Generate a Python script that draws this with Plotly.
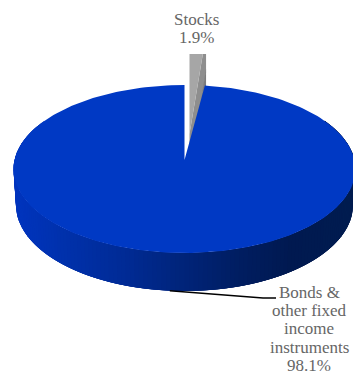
import numpy as np
import plotly.graph_objects as go

# Portfolio breakdown
categories = ["Stocks", "Bonds &<br>other fixed<br>income<br>instruments"]
shares = [1.9, 98.1]

WIDTH, HEIGHT = 353, 375
BLUE = "#0039c4"
GRAY_TOP = "#a6a6a6"
GRAY_CUT = "#8e8e8e"
GRAY_CUT_DARK = "#7c7c7c"
LABEL = "#666666"
LABEL_FONT = "Liberation Serif"
LABEL_SIZE = 17
LINE_STEP = 18.4

# Projected disc: top rim, bottom rim and the off-centre pie apex
CX, TOP_CY, TOP_A, TOP_B = 184.5, 169, 171, 84
BOT_CY, BOT_A, BOT_B = 205, 168.5, 86
APEX_Y = 160
CLIP_TOP = 54

# Pulled-out slice
PULL_X, PULL_Y, PULL_A, PULL_B, DEPTH = 189.5, 134, 139, 100, 38

# Side wall shading, left to right
WALL_X = [14, 60, 120, 180, 240, 290, 353]
WALL_R = [0, 0, 0, 0, 0, 0, 0]
WALL_G = [52, 49, 43, 36, 29, 25, 28]
WALL_B = [190, 172, 150, 122, 96, 80, 80]

stock_angle = 2 * np.pi * shares[0] / sum(shares)


def top_rim(theta):
    return CX + TOP_A * np.sin(theta), TOP_CY - TOP_B * np.cos(theta)


def bottom_rim(theta):
    return CX + BOT_A * np.sin(theta), BOT_CY - BOT_B * np.cos(theta)


def polygon(x, y, color, ax="x2", ay="y2", edge=0):
    return go.Scatter(
        x=list(x), y=list(y), xaxis=ax, yaxis=ay, mode="lines", fill="toself",
        fillcolor=color, line=dict(color=color, width=edge),
        hoverinfo="skip", showlegend=False,
    )


fig = go.Figure()

# Pulled-out slice: cut face first, then its top surface. It lives on the
# first subplot, whose plot area trims it at the top.
outer_x = PULL_X + PULL_A * np.sin(stock_angle)
outer_y = PULL_Y - PULL_B * np.cos(stock_angle)
fig.add_trace(polygon(
    [PULL_X, outer_x, outer_x, PULL_X],
    [PULL_Y, outer_y, outer_y + DEPTH, PULL_Y + DEPTH],
    GRAY_CUT, "x", "y",
))
fig.add_trace(polygon(
    [PULL_X + 6, outer_x, outer_x, PULL_X + 6],
    [PULL_Y, outer_y + DEPTH * 0.9, outer_y + DEPTH * 2, PULL_Y + DEPTH],
    GRAY_CUT_DARK, "x", "y",
))
fig.add_trace(polygon(
    [PULL_X, PULL_X, outer_x],
    [PULL_Y, PULL_Y - PULL_B, outer_y],
    GRAY_TOP, "x", "y",
))

# Main slice side wall: shaded strips painted left to right, each one
# overlapping the next so no gaps show between them
edges = np.radians(np.linspace(305, 55, 161))
strip_span = 4
for i in range(len(edges) - 1):
    span = np.linspace(edges[i], edges[min(i + strip_span, len(edges) - 1)], strip_span + 1)
    tx, ty = top_rim(span)
    bx, by = bottom_rim(span)
    mid = top_rim(edges[i])[0]
    g = np.interp(mid, WALL_X, WALL_G)
    b = np.interp(mid, WALL_X, WALL_B)
    r = np.interp(mid, WALL_X, WALL_R)
    fig.add_trace(polygon(
        np.concatenate([tx, bx[::-1]]), np.concatenate([ty, by[::-1]]),
        f"rgb({r:.0f},{g:.0f},{b:.0f})",
    ))

# Main slice top surface
arc = np.linspace(stock_angle, 2 * np.pi, 241)
arc_x, arc_y = top_rim(arc)
fig.add_trace(polygon(
    np.concatenate([[CX], arc_x]), np.concatenate([[APEX_Y], arc_y]), BLUE,
))

# Leader from the bottom rim to the label
lead_x, lead_y = bottom_rim(np.radians(185))
fig.add_trace(go.Scatter(
    x=[lead_x, 263, 276], y=[lead_y, 298, 298], xaxis="x2", yaxis="y2",
    mode="lines", line=dict(color="black", width=1.5),
    hoverinfo="skip", showlegend=False,
))


def label(lines, x, y_first):
    return [
        dict(text=line, x=x, y=y_first + i * LINE_STEP, xref="x2", yref="y2",
             xanchor="center", yanchor="middle", showarrow=False,
             font=dict(family=LABEL_FONT, size=LABEL_SIZE, color=LABEL))
        for i, line in enumerate(lines)
    ]


annotations = (
    label(categories[0].split("<br>") + [f"{shares[0]}%"], 196, 19)
    + label(categories[1].split("<br>") + [f"{shares[1]}%"], 309, 292)
)

hidden = dict(visible=False, fixedrange=True)
fig.update_layout(
    width=WIDTH, height=HEIGHT, margin=dict(l=0, r=0, t=0, b=0),
    paper_bgcolor="white", plot_bgcolor="rgba(0,0,0,0)",
    showlegend=False, annotations=annotations,
    xaxis=dict(range=[0, WIDTH], domain=[0, 1], anchor="y", **hidden),
    yaxis=dict(range=[HEIGHT, CLIP_TOP], domain=[0, 1 - CLIP_TOP / HEIGHT],
               anchor="x", **hidden),
    xaxis2=dict(range=[0, WIDTH], domain=[0, 1], anchor="y2", **hidden),
    yaxis2=dict(range=[HEIGHT, 0], domain=[0, 1], anchor="x2", **hidden),
)

fig.write_html("out.html", config=dict(displayModeBar=False))
